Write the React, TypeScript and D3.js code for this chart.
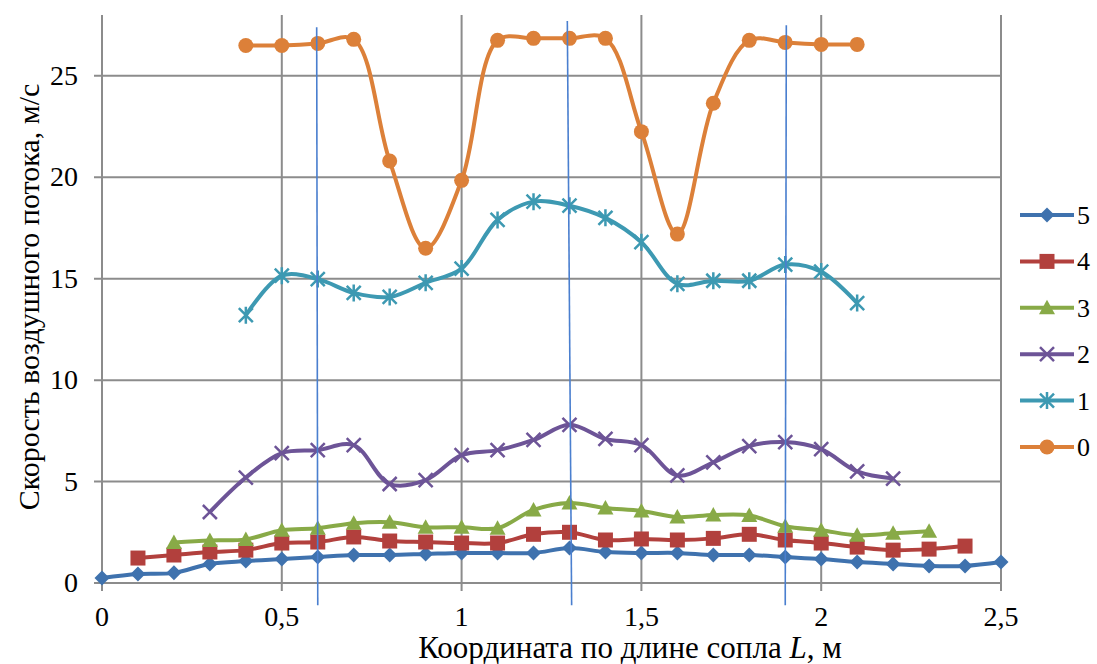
import React from "react";
import * as d3 from "d3";

// координаты по длине сопла, м
const positions = [
  0, 0.1, 0.2, 0.3, 0.4, 0.5, 0.6, 0.7, 0.8, 0.9, 1, 1.1, 1.2, 1.3, 1.4, 1.5, 1.6,
  1.7, 1.8, 1.9, 2, 2.1, 2.2, 2.3, 2.4, 2.5,
];

const xTicks = [0, 0.5, 1, 1.5, 2, 2.5];
const yTicks = [0, 5, 10, 15, 20, 25];

// series values (start index in positions + values)
const s5 = [0.25, 0.44, 0.5, 0.94, 1.08, 1.18, 1.28, 1.38, 1.38, 1.43, 1.48, 1.48, 1.48, 1.72, 1.53, 1.48, 1.48, 1.38, 1.38, 1.28, 1.18, 1.03, 0.94, 0.84, 0.84, 1.03];
const s4 = [1.23, 1.38, 1.53, 1.62, 1.97, 2.02, 2.27, 2.07, 2.02, 1.97, 1.97, 2.4, 2.5, 2.12, 2.17, 2.12, 2.2, 2.4, 2.12, 1.97, 1.77, 1.62, 1.67, 1.82];
const s3 = [2.0, 2.1, 2.15, 2.6, 2.7, 2.95, 3.0, 2.75, 2.75, 2.7, 3.6, 3.94, 3.7, 3.55, 3.25, 3.35, 3.33, 2.8, 2.6, 2.35, 2.45, 2.55];
const s2 = [3.5, 5.2, 6.4, 6.55, 6.8, 4.88, 5.07, 6.3, 6.55, 7.05, 7.8, 7.1, 6.8, 5.3, 5.95, 6.75, 6.95, 6.6, 5.5, 5.15];
const s1 = [13.2, 15.15, 14.98, 14.3, 14.1, 14.8, 15.5, 17.9, 18.8, 18.6, 18.0, 16.8, 14.75, 14.9, 14.9, 15.7, 15.35, 13.8];
const s0 = [26.5, 26.5, 26.6, 26.8, 20.8, 16.5, 19.85, 26.75, 26.85, 26.85, 26.85, 22.25, 17.2, 23.65, 26.75, 26.65, 26.55, 26.55];

const names = ["5", "4", "3", "2", "1", "0"];
const starts = [0, 1, 2, 3, 4, 4];
const values = [s5, s4, s3, s2, s1, s0];
const colors = ["#3f72ae", "#b2403d", "#88aa47", "#6d5497", "#3d99b2", "#dc8039"];
const markers = ["diamond", "square", "triangle", "x", "star", "circle"];

// вертикальные линии (x вверху, x внизу)
const guideTop = [0.597, 1.294, 1.903];
const guideBottom = [0.6, 1.306, 1.9];
const guideYTop = [27.4, 27.7, 27.5];
const guideYBottom = -1.1;

const W = 1097;
const H = 664;
const font = "Liberation Serif, Times New Roman, DejaVu Serif, serif";

function markerPath(kind: string) {
  switch (kind) {
    case "diamond":
      return "M0,-7.5L7.5,0L0,7.5L-7.5,0Z";
    case "square":
      return "M-7.5,-7.5H7.5V7.5H-7.5Z";
    case "triangle":
      return "M0,-8L8,6.5H-8Z";
    case "circle":
      return d3.symbol(d3.symbolCircle, Math.PI * 7.5 * 7.5)() || "";
    case "x":
      return "M-7,-7L7,7M7,-7L-7,7";
    case "star":
      return "M-7,-7L7,7M7,-7L-7,7M0,-8.5V8.5";
  }
  return "";
}

const isStroke = (m: string) => m === "x" || m === "star";

export default function App() {
  const x = d3.scaleLinear().domain([0, 2.5]).range([102, 1001]);
  const y = d3.scaleLinear().domain([0, 28]).range([583, 15]);

  const line = d3
    .line<[number, number]>()
    .x((d) => x(d[0]))
    .y((d) => y(d[1]))
    .curve(d3.curveCatmullRom.alpha(0.5));

  const series = names.map((name, i) => ({
    name,
    color: colors[i],
    marker: markers[i],
    points: values[i].map((v, j) => [positions[starts[i] + j], v] as [number, number]),
  }));

  const legendY = d3.scalePoint().domain(names).range([215, 447]);

  return (
    <svg width={W} height={H} style={{ position: "absolute", left: 0, top: 0, background: "#fff" }}>
      {/* grid */}
      <g stroke="#8c8c8c" strokeWidth={2}>
        {yTicks.map((t) => (
          <line key={"h" + t} x1={x(0) - 8} x2={x(2.5)} y1={y(t)} y2={y(t)} />
        ))}
        {xTicks.map((t) => (
          <line key={"v" + t} x1={x(t)} x2={x(t)} y1={y(28)} y2={y(0) + 8} />
        ))}
      </g>

      {/* tick labels */}
      <g style={{ fontFamily: font }} fontSize={28} fill="#000">
        {yTicks.map((t) => (
          <text key={"yl" + t} x={78} y={y(t) + 9} textAnchor="end">
            {t}
          </text>
        ))}
        {xTicks.map((t) => (
          <text key={"xl" + t} x={x(t)} y={626} textAnchor="middle">
            {String(t).replace(".", ",")}
          </text>
        ))}
      </g>

      {/* series */}
      {series.map((s) => (
        <g key={s.name}>
          <path d={line(s.points) || ""} fill="none" stroke={s.color} strokeWidth={4} strokeLinejoin="round" />
          {s.points.map((p, j) => (
            <path
              key={j}
              transform={`translate(${x(p[0])},${y(p[1])})`}
              d={markerPath(s.marker)}
              fill={isStroke(s.marker) ? "none" : s.color}
              stroke={s.color}
              strokeWidth={isStroke(s.marker) ? 2.5 : 0}
            />
          ))}
        </g>
      ))}

      {/* guide lines */}
      <g stroke="#4a7fcf" strokeWidth={1.6}>
        {guideTop.map((g, i) => (
          <line key={"g" + i} x1={x(g)} x2={x(guideBottom[i])} y1={y(guideYTop[i])} y2={y(guideYBottom)} />
        ))}
      </g>

      {/* legend */}
      <g style={{ fontFamily: font }} fontSize={26}>
        {series.map((s) => (
          <g key={"lg" + s.name} transform={`translate(0,${legendY(s.name)})`}>
            <line x1={1020} x2={1074} y1={0} y2={0} stroke={s.color} strokeWidth={4} />
            <path
              transform="translate(1047,0)"
              d={markerPath(s.marker)}
              fill={isStroke(s.marker) ? "none" : s.color}
              stroke={s.color}
              strokeWidth={isStroke(s.marker) ? 2.5 : 0}
            />
            <text x={1077} y={9} fill="#000">
              {s.name}
            </text>
          </g>
        ))}
      </g>

      {/* axis titles */}
      <text
        style={{ fontFamily: font }}
        fontSize={30}
        textAnchor="middle"
        transform="translate(39,297) rotate(-90)"
      >
        Скорость воздушного потока, м/с
      </text>
      <text style={{ fontFamily: font }} fontSize={31} textAnchor="middle" x={630} y={658}>
        Координата по длине сопла <tspan fontStyle="italic">L</tspan>, м
      </text>
    </svg>
  );
}
